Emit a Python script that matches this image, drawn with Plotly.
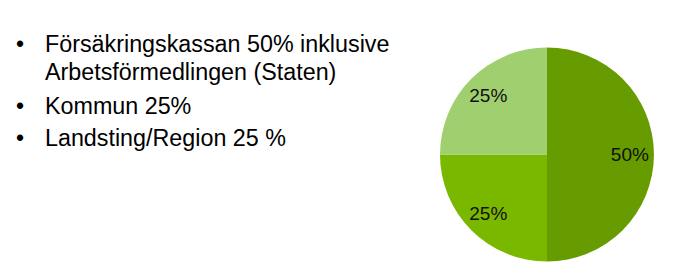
import plotly.graph_objects as go

labels = ["Försäkringskassan", "Kommun", "Landsting/Region"]
values = [50, 25, 25]
colors = ["#679c00", "#7ab800", "#a0cf6f"]
bullet_lines = [
    "Försäkringskassan 50% inklusive",
    "Arbetsförmedlingen (Staten)",
    "Kommun 25%",
    "Landsting/Region 25 %",
]
bullet_flags = [True, False, True, True]
line_y = [44, 72, 106, 138]

W, H = 695, 276
FONT = "Liberation Sans, Arial, sans-serif"
dom = dict(x=[(547 - 107) / W, (547 + 107) / W], y=[1 - 262 / H, 1 - 47 / H])

# filled pie
fig = go.Figure()
fig.add_trace(go.Pie(
    labels=labels, values=values, sort=False, direction="clockwise", rotation=0,
    marker=dict(colors=colors, line=dict(width=0)),
    textinfo="none", domain=dom, showlegend=False, hoverinfo="skip",
))
# transparent ring carrying the percentage labels (places them toward the rim)
fig.add_trace(go.Pie(
    labels=labels, values=values, sort=False, direction="clockwise", rotation=0,
    hole=0.55,
    marker=dict(colors=["rgba(0,0,0,0)"] * 3, line=dict(width=0)),
    textinfo="percent", textposition="inside", insidetextorientation="horizontal",
    textfont=dict(family=FONT, size=19, color="#111111"),
    domain=dom, showlegend=False, hoverinfo="skip",
))

for txt, b, y in zip(bullet_lines, bullet_flags, line_y):
    fig.add_annotation(x=43 / W, y=1 - y / H, xref="paper", yref="paper",
                       text=txt, showarrow=False, xanchor="left", yanchor="middle",
                       font=dict(family=FONT, size=23.3, color="#000000"))
    if b:
        fig.add_annotation(x=20 / W, y=1 - y / H, xref="paper", yref="paper",
                           text="•", showarrow=False, xanchor="center", yanchor="middle",
                           font=dict(family=FONT, size=23, color="#000000"))

fig.update_layout(width=W, height=H, margin=dict(l=0, r=0, t=0, b=0),
                  paper_bgcolor="white", plot_bgcolor="white")
fig.write_html("out.html")
